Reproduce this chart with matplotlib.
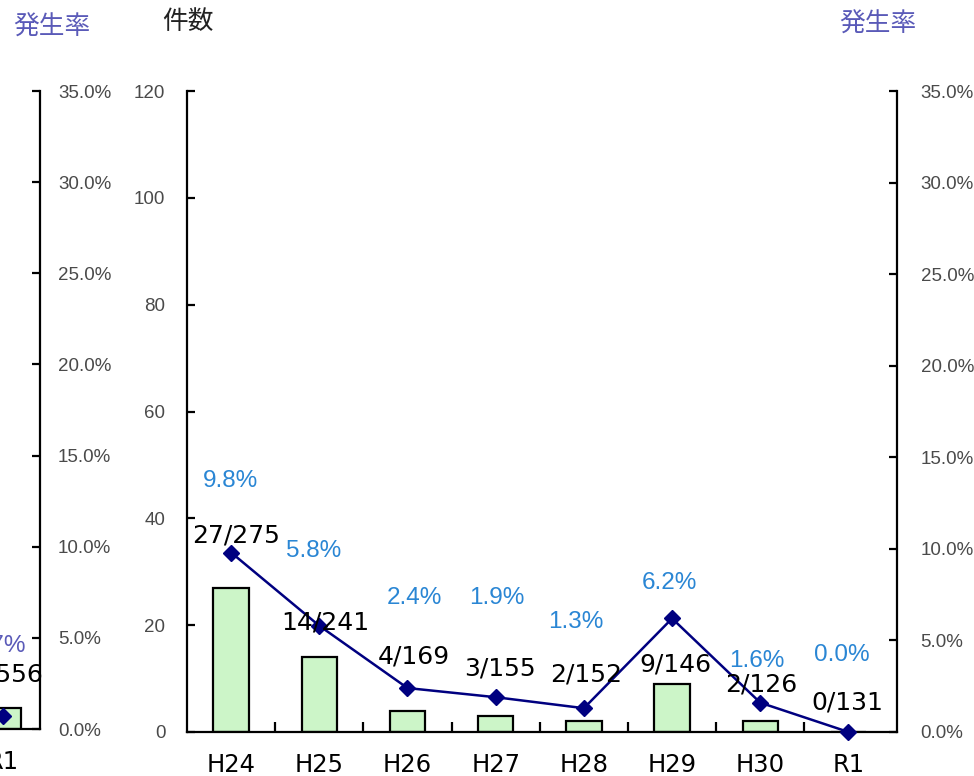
import matplotlib
matplotlib.use("Agg")
import matplotlib.pyplot as plt
from matplotlib.ticker import FuncFormatter, FixedLocator

plt.rcParams['font.family'] = ['Noto Sans CJK JP', 'DejaVu Sans']

# ---- data (main chart) ----
categories = ['H24', 'H25', 'H26', 'H27', 'H28', 'H29', 'H30', 'R1']
counts = [27, 14, 4, 3, 2, 9, 2, 0]
totals = [275, 241, 169, 155, 152, 146, 126, 131]
rates = [9.8, 5.8, 2.4, 1.9, 1.3, 6.2, 1.6, 0.0]
count_ticks = [0, 20, 40, 60, 80, 100, 120]
rate_ticks = [0, 5, 10, 15, 20, 25, 30, 35]

# ---- data (previous chart, only its last category is visible) ----
prev_categories = ['R1']
prev_counts = [4]
prev_totals = [556]
prev_rates = [0.7]

# ---- styling: label offsets in pixels relative to line markers ----
rate_label_offsets = [(-1, 72), (-6, 75), (7, 90), (1, 99), (-8, 86), (-3, 35), (-3, 42), (-7, 77)]
count_label_offsets = [(5, 17), (6, 3), (6, 32), (4, 29), (2, 34), (3, -46), (1, 18), (-1, 30)]

W, H = 974, 776
fig = plt.figure(figsize=(W / 100, H / 100), dpi=100)

BAR_COLOR = '#ccf5c8'
LINE_COLOR = '#000080'
RATE_TXT = '#2a86d4'
TITLE_BLUE = '#5a5ab8'
TICK_GRAY = '#4a4a4a'
TICK_FAMILY = ['Liberation Sans', 'DejaVu Sans']
NUM_FAMILY = ['DejaVu Sans']


def style_axes(ax, ax2, ncat, rpad=17):
    ax.spines['top'].set_visible(False)
    ax2.spines['top'].set_visible(False)
    for s in ['left', 'right', 'bottom']:
        ax.spines[s].set_linewidth(1.6)
        ax2.spines[s].set_linewidth(1.6)
    ax.spines['right'].set_visible(False)
    ax2.spines['left'].set_visible(False)
    ax2.spines['bottom'].set_visible(False)
    ax.set_ylim(0, 120)
    ax.yaxis.set_major_locator(FixedLocator(count_ticks))
    ax.tick_params(axis='y', direction='in', length=6, width=1.6, pad=15.5,
                   labelsize=13.5, labelcolor=TICK_GRAY)
    ax2.set_ylim(0, 35)
    ax2.yaxis.set_major_locator(FixedLocator(rate_ticks))
    ax2.yaxis.set_major_formatter(FuncFormatter(lambda v, p: f'{v:.1f}%'))
    ax2.tick_params(axis='y', direction='in', length=6, width=1.6, pad=rpad,
                    labelsize=13.5, labelcolor=TICK_GRAY)
    for lab in ax.get_yticklabels() + ax2.get_yticklabels():
        lab.set_family(TICK_FAMILY)
    ax.set_xticks(range(ncat))
    ax.tick_params(axis='x', length=0, pad=15, labelsize=17.5)
    ax.set_xticks([i + 0.5 for i in range(ncat - 1)], minor=True)
    ax.tick_params(axis='x', which='minor', direction='in', length=7, width=1.6)


# ---- main chart ----
ax = fig.add_axes([187 / W, (H - 732) / H, 710 / W, 641 / H])
ax2 = ax.twinx()
x = list(range(len(categories)))
ax.bar(x, counts, width=0.4, color=BAR_COLOR, edgecolor='black', linewidth=1.6, zorder=2)
ax.set_xlim(-0.5, len(categories) - 0.45)
ax2.plot(x, rates, color=LINE_COLOR, lw=1.8, marker='D', ms=8, clip_on=False, zorder=3)
style_axes(ax, ax2, len(categories))
ax.set_xticklabels(categories)
for lab in ax.get_xticklabels():
    lab.set_family(NUM_FAMILY)

for i in x:
    dx, dy = rate_label_offsets[i]
    ax2.annotate(f'{rates[i]:.1f}%', (i, rates[i]), xytext=(dx, dy), textcoords='offset pixels',
                 ha='center', va='center', fontsize=17.5, color=RATE_TXT, family=TICK_FAMILY)
    dx, dy = count_label_offsets[i]
    ax2.annotate(f'{counts[i]}/{totals[i]}', (i, rates[i]), xytext=(dx, dy), textcoords='offset pixels',
                 ha='center', va='center', fontsize=18, color='black', family=NUM_FAMILY)

fig.text(188 / W, 1 - 22 / H, '件数', ha='center', va='center', fontsize=18.5, color='#222222')
fig.text(878 / W, 1 - 25 / H, '発生率', ha='center', va='center', fontsize=18.5, color=TITLE_BLUE)

# ---- previous chart (partially visible on the left edge) ----
nprev = 8
xr = nprev - 1 + 37 / 89
width_px = (xr + 0.5) * 89
axp = fig.add_axes([(40 - width_px) / W, (H - 729) / H, width_px / W, 638 / H])
axp2 = axp.twinx()
xp = [nprev - len(prev_categories) + i for i in range(len(prev_categories))]
axp.bar(xp, prev_counts, width=0.4, color=BAR_COLOR, edgecolor='black', linewidth=1.6, zorder=2)
axp.set_xlim(-0.5, xr)
axp2.plot(xp, prev_rates, color=LINE_COLOR, lw=1.8, marker='D', ms=8, zorder=3)
style_axes(axp, axp2, nprev, rpad=13)
axp.set_xticks(xp)
axp.set_xticklabels(prev_categories)
for lab in axp.get_xticklabels():
    lab.set_family(NUM_FAMILY)
for j, i in enumerate(xp):
    axp2.annotate(f'{prev_rates[j]:.1f}%', (i, prev_rates[j]), xytext=(-5, 70), textcoords='offset pixels',
                  ha='center', va='center', fontsize=17.5, color=TITLE_BLUE, family=TICK_FAMILY)
    axp2.annotate(f'{prev_counts[j]}/{prev_totals[j]}', (i, prev_rates[j]), xytext=(5, 42),
                  textcoords='offset pixels', ha='center', va='center', fontsize=18, color='black',
                  family=NUM_FAMILY)
fig.text(52 / W, 1 - 28 / H, '発生率', ha='center', va='center', fontsize=18.5, color=TITLE_BLUE)

fig.savefig('out.png', dpi=100)
